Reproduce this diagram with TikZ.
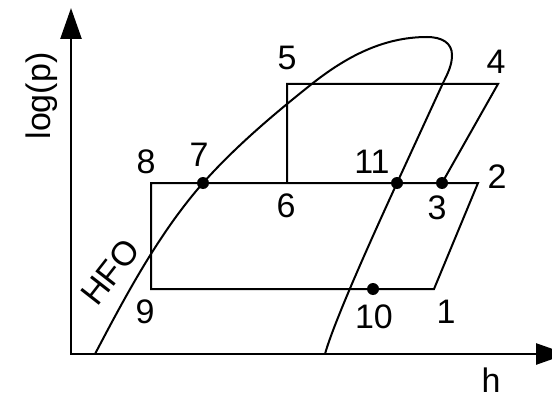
\documentclass[tikz,border=0pt]{standalone}
\usepackage{fontspec}
\setmainfont{Liberation Sans}
\usetikzlibrary{arrows.meta}
\begin{document}
\begin{tikzpicture}[x=1pt,y=-1pt,
  cyc/.style={line width=2pt, line join=miter},
  dot/.style={circle,fill=black,inner sep=0pt,minimum size=12pt},
  lbl/.style={font=\fontsize{34}{40}\selectfont, inner sep=0pt},
  axis/.style={line width=2.6pt,{Triangle[length=31pt,width=21pt]}-{Triangle[length=31pt,width=21pt]}}]
\useasboundingbox (0,0) rectangle (552,396);
\clip (0,0) rectangle (552,396);
% axes
\coordinate (O) at (71,354);
\coordinate (Ytip) at (71,8);
\coordinate (Xtip) at (567,354);
\draw[axis] (Ytip) -- (O) -- (Xtip);
% cycle points
\coordinate (p1) at (434,289);
\coordinate (p2) at (478,183);
\coordinate (p3) at (442,183);
\coordinate (p4) at (498,84);
\coordinate (p5) at (287,84);
\coordinate (p6) at (287,183);
\coordinate (p7) at (203,183);
\coordinate (p8) at (151,183);
\coordinate (p9) at (151,289);
\coordinate (p10) at (373,289);
\coordinate (p11) at (397,183);
\draw[cyc] (p8) -- (p2) -- (p1) -- (p9) -- cycle;
\draw[cyc] (p6) -- (p5) -- (p4) -- (p3);
% saturation curve
\coordinate (s0) at (95,354);
\coordinate (sa) at (313,83);
\coordinate (sb) at (427,37);
\coordinate (sc) at (452,55);
\coordinate (sd) at (443,83);
\coordinate (se) at (325,354);
\draw[cyc] (s0) .. controls (126,295) and (159,233) .. (p7)
  .. controls (236,146) and (274,114) .. (sa)
  .. controls (345,58) and (382,37) .. (sb)
  .. controls (442,37) and (452,43) .. (sc)
  .. controls (452,65) and (448,73) .. (sd)
  -- (p11)
  .. controls (381,218) and (335,318) .. (se);
% dots
\node[dot] (d7) at (p7) {};
\node[dot] (d11) at (p11) {};
\node[dot] (d3) at (p3) {};
\node[dot] (d10) at (p10) {};
% labels
\node[lbl] (l5) at (287,58) {5};
\node[lbl] (l4) at (496,62) {4};
\node[lbl] (l8) at (146,162) {8};
\node[lbl] (l7) at (199,155) {7};
\node[lbl] (l11) at (372,162) {11};
\node[lbl] (l2) at (497,177) {2};
\node[lbl] (l6) at (286,206) {6};
\node[lbl] (l3) at (437,208) {3};
\node[lbl] (l9) at (145,312) {9};
\node[lbl] (l10) at (374,317) {10};
\node[lbl] (l1) at (446,312) {1};
\node[lbl] (lh) at (491,380) {h};
\node[lbl, rotate=90] (lp) at (42,96) {log(p)};
\node[lbl, rotate=52] (lhfo) at (110,272) {HFO};
\end{tikzpicture}
\end{document}
